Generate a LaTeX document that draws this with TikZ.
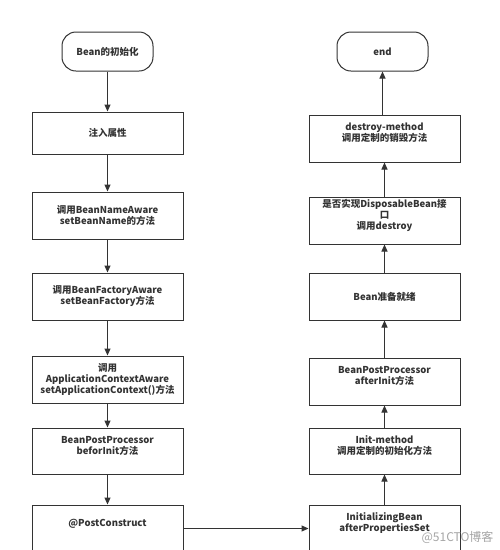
\documentclass[tikz,border=0pt]{standalone}
\usepackage{fontspec}
\setmainfont{Noto Sans CJK SC}
\usepackage{xcolor}
\usepackage{tikz}
\usetikzlibrary{arrows.meta, positioning}

\definecolor{linegray}{HTML}{333333}

\begin{document}
\begin{tikzpicture}[
  x=1pt, y=-1pt,
  every node/.style={font=\bfseries\fontsize{9.5}{11}\selectfont, text=linegray},
  box/.style={draw=linegray, line width=1pt, rectangle, minimum width=151pt,
              minimum height=47pt, inner sep=1pt, align=center},
  lift/.style={text depth=12pt},
  term/.style={draw=linegray, line width=1pt, rectangle, rounded corners=14pt,
               minimum width=91pt, minimum height=39pt, align=center},
  arrow/.style={-{Triangle[length=7pt,width=6pt]}, draw=linegray, line width=1pt},
]
\useasboundingbox[fill=white] (0,0) rectangle (500,550);

% left column, top down
\node[term] (start) at (107.5,51.5) {Bean的初始化};
\node[box, minimum height=42pt, below=40pt of start] (inject) {注入属性};
\node[box, below=37pt of inject]  (nameaware) {调用BeanNameAware\\setBeanName的方法};
\node[box, below=33pt of nameaware] (factaware) {调用BeanFactoryAware\\setBeanFactory方法};
\node[box, below=35pt of factaware] (ctxaware)  {调用\\ApplicationContextAware\\setApplicationContext()方法};
\node[box, lift, minimum height=46pt, below=24pt of ctxaware] (before) {BeanPostProcessor\\beforInit方法};
\node[box, lift, below=30pt of before] (postcons) {@PostConstruct};

% right column, bottom up
\node[box, lift, right=125pt of postcons] (initbean) {InitializingBean\\afterPropertiesSet};
\node[box, lift, minimum height=46pt, above=30pt of initbean] (initmeth) {Init-method\\调用定制的初始化方法};
\node[box, lift, above=22pt of initmeth] (after) {BeanPostProcessor\\afterInit方法};
\node[box, above=37pt of after] (ready) {Bean准备就绪};
\node[box, lift, above=28pt of ready] (dispose) {是否实现DisposableBean接\\口\\调用destroy};
\node[box, lift, above=34pt of dispose] (destroy) {destroy-method\\调用定制的销毁方法};
\node[term] (end) at (382.5,51.5) {end};

\draw[arrow] (start) -- (inject);
\draw[arrow] (inject) -- (nameaware);
\draw[arrow] (nameaware) -- (factaware);
\draw[arrow] (factaware) -- (ctxaware);
\draw[arrow] (ctxaware) -- (before);
\draw[arrow] (before) -- (postcons);
\draw[arrow] (postcons) -- (initbean);
\draw[arrow] (initbean) -- (initmeth);
\draw[arrow] (initmeth) -- (after);
\draw[arrow] (after) -- (ready);
\draw[arrow] (ready) -- (dispose);
\draw[arrow] (dispose) -- (destroy);
\draw[arrow] (destroy.north -| end) -- (end);

\node[anchor=east, font=\fontsize{12}{14}\selectfont, text=gray!70] (mark) at (497,537) {@51CTO博客};
\end{tikzpicture}
\end{document}
